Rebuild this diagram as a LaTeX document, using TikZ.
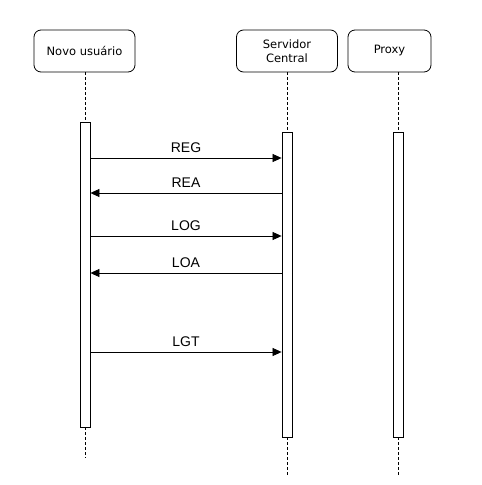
\documentclass[tikz,border=0pt]{standalone}
\usepackage{fontspec}
\setmainfont{Liberation Sans}
\newfontfamily\boxfont{DejaVu Sans}
\usetikzlibrary{arrows.meta}
\begin{document}
\begin{tikzpicture}[x=1pt,y=-1pt,
  actor/.style={draw, rounded corners=7pt, line width=0.8pt, minimum height=42pt, align=center, font=\boxfont\fontsize{11.5}{14}\selectfont, inner sep=0pt},
  life/.style={densely dashed, line width=0.6pt},
  bar/.style={draw, fill=white, line width=0.8pt},
  msg/.style={-{Triangle[length=9pt,width=8pt]}, line width=0.7pt},
  lbl/.style={font=\fontsize{14}{16}\selectfont, inner sep=1pt}]
\useasboundingbox (0,0) rectangle (482,485);
\node[actor, minimum width=101pt] (user) at (84.5,51) {Novo usuário};
\node[actor, minimum width=101pt] (srv) at (287,51) {Servidor\\Central};
\node[actor, minimum width=83pt] (prx) at (389.5,51) {Proxy};
% lifelines
\coordinate (ue) at (85,458);
\coordinate (se) at (287,476);
\coordinate (pe) at (398,476);
\draw[life] (user.south -| ue) -- (ue);
\draw[life] (287,72) -- (se);
\draw[life] (398,72) -- (pe);
% activation bars
\node[bar, minimum width=10pt, minimum height=305pt, inner sep=0pt, anchor=north] (ubar) at (85,122) {};
\node[bar, minimum width=10pt, minimum height=305pt, inner sep=0pt, anchor=north] (sbar) at (287,132) {};
\node[bar, minimum width=10pt, minimum height=305pt, inner sep=0pt, anchor=north] (pbar) at (398,132) {};
% messages
\draw[msg] (ubar.east |- 0,158) -- node[lbl, above=4pt] (reg) {REG} (sbar.west |- 0,158);
\draw[msg] (sbar.west |- 0,193) -- node[lbl, above=4pt] (rea) {REA} (ubar.east |- 0,193);
\draw[msg] (ubar.east |- 0,236) -- node[lbl, above=4pt] (log) {LOG} (sbar.west |- 0,236);
\draw[msg] (sbar.west |- 0,273) -- node[lbl, above=4pt] (loa) {LOA} (ubar.east |- 0,273);
\draw[msg] (ubar.east |- 0,352) -- node[lbl, above=4pt] (lgt) {LGT} (sbar.west |- 0,352);
\end{tikzpicture}
\end{document}
